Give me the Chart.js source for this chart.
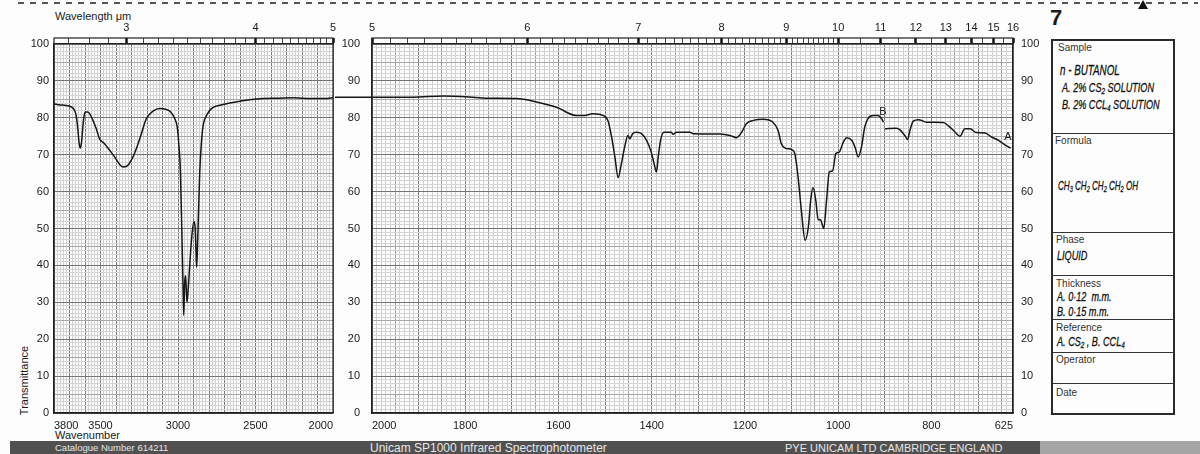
<!DOCTYPE html>
<html>
<head>
<meta charset="utf-8">
<title>n-Butanol IR spectrum</title>
<script src="https://cdn.jsdelivr.net/npm/chart.js@4.4.1/dist/chart.umd.min.js"></script>
<style>
  html, body { margin: 0; padding: 0; }
  body {
    width: 1200px; height: 454px; position: relative; overflow: hidden;
    background: #fdfdfd; color: #1a1a1a;
    font-family: 'Liberation Sans', Arial, sans-serif;
  }
  canvas { position: absolute; top: 0; }
  #left { left: 0; }
  #right { left: 335px; }
  .abs { position: absolute; white-space: nowrap; line-height: 1; }
  .hd { font-size: 10px; color: #333; }
  .hw { font-style: italic; font-size: 13px; color: #111; transform: scaleX(0.7); transform-origin: left center; -webkit-text-stroke: 0.3px #111; }
  .hw sub { font-size: 9px; vertical-align: -2px; }
  .rule { position: absolute; left: 1051px; width: 124px; height: 0; border-top: 1px solid #333; }
  #info { position: absolute; left: 1051px; top: 39px; width: 124px; height: 376px; box-sizing: border-box; border: 2px solid #2a2a2a; }
  #dash { position: absolute; left: 18px; top: 2px; width: 1180px; height: 2px;
          background: repeating-linear-gradient(90deg, #555 0 6px, transparent 6px 12px); }
  #band { position: absolute; left: 10px; top: 441px; width: 1030px; height: 13px; background: #505050; }
  #band2 { position: absolute; left: 1040px; top: 441px; width: 160px; height: 13px; background: #a5a5a5; }
  .bt { position: absolute; top: 442px; color: #e6e6e6; white-space: nowrap; line-height: 12px; }
</style>
</head>
<body>
<div id="dash"></div>
<div class="abs" style="left:1138px;top:0;width:0;height:0;border-left:5px solid transparent;border-right:5px solid transparent;border-bottom:9px solid #111;"></div>
<div class="abs" style="left:1050px;top:7px;font-size:22px;font-weight:bold;">7</div>

<div class="abs" style="left:55px;top:11px;font-size:11px;">Wavelength μm</div>
<div class="abs" style="left:55px;top:430px;font-size:11px;">Wavenumber</div>
<div class="abs" style="left:-10px;top:375px;font-size:11px;transform:rotate(-90deg);">Transmittance</div>

<canvas id="left" width="345" height="454"></canvas>
<canvas id="right" width="710" height="454"></canvas>

<div id="info"></div>
<div class="rule" style="top:133px"></div>
<div class="rule" style="top:232px"></div>
<div class="rule" style="top:275px"></div>
<div class="rule" style="top:319px"></div>
<div class="rule" style="top:352px"></div>
<div class="rule" style="top:383px"></div>

<div class="abs hd" style="left:1058px;top:43px">Sample</div>
<div class="abs hw" style="left:1060px;top:63px;font-size:14px"><i>n</i> - BUTANOL</div>
<div class="abs hw" style="left:1062px;top:81px">A. 2% CS<sub>2</sub> SOLUTION</div>
<div class="abs hw" style="left:1062px;top:98px">B. 2% CCL<sub>4</sub> SOLUTION</div>
<div class="abs hd" style="left:1055px;top:136px">Formula</div>
<div class="abs hw" style="left:1058px;top:179px;transform:scaleX(0.62)">CH<sub>3</sub> CH<sub>2</sub> CH<sub>2</sub> CH<sub>2</sub> OH</div>
<div class="abs hd" style="left:1056px;top:235px">Phase</div>
<div class="abs hw" style="left:1057px;top:249px">LIQUID</div>
<div class="abs hd" style="left:1056px;top:279px">Thickness</div>
<div class="abs hw" style="left:1057px;top:290px">A. 0·12 &nbsp;m.m.</div>
<div class="abs hw" style="left:1057px;top:305px">B. 0·15 m.m.</div>
<div class="abs hd" style="left:1056px;top:323px">Reference</div>
<div class="abs hw" style="left:1057px;top:335px">A. CS<sub>2</sub> , B. CCL<sub>4</sub></div>
<div class="abs hd" style="left:1056px;top:355px">Operator</div>
<div class="abs hd" style="left:1056px;top:388px">Date</div>

<div id="band"></div>
<div id="band2"></div>
<div class="bt" style="left:55px;font-size:9.5px;">Catalogue Number 614211</div>
<div class="bt" style="left:370px;font-size:12px;">Unicam SP1000 Infrared Spectrophotometer</div>
<div class="bt" style="left:785px;font-size:11px;">PYE UNICAM LTD CAMBRIDGE ENGLAND</div>

<script>
/* ── Trace: wavenumber (cm-1) and % transmittance ── */
const WN_LEFT = [3800, 3760, 3732, 3690, 3670, 3657, 3645, 3640, 3631, 3622, 3614, 3607, 3598, 3585,
  3571, 3549, 3527, 3506, 3474, 3441, 3409, 3377, 3355, 3333, 3301, 3269, 3236, 3204, 3161, 3118,
  3080, 3050, 3021, 3005, 2996, 2984, 2974, 2967, 2963, 2957, 2951, 2946, 2942, 2935, 2929, 2913,
  2898, 2890, 2884, 2880, 2875, 2871, 2860, 2842, 2816, 2784, 2730, 2666, 2600, 2537, 2450, 2350,
  2250, 2150, 2050, 2000];
const T_LEFT = [83.8, 83.5, 83.4, 83.0, 82.2, 80.6, 76.5, 73.9, 71.8, 73.5, 77.5, 80.2, 81.6, 81.6,
  81.2, 79.3, 77.0, 74.3, 73.0, 71.2, 69.4, 67.4, 66.7, 66.8, 68.5, 71.6, 75.7, 79.8, 81.8, 82.5,
  82.3, 81.7, 79.8, 77.5, 73.5, 64.9, 46.8, 33.3, 26.5, 35.2, 37.2, 33.0, 30.0, 33.0, 36.9, 46.8,
  51.8, 50.5, 44.0, 39.5, 44.0, 49.5, 64.9, 76.6, 80.6, 82.5, 83.4, 84.0, 84.5, 84.9, 85.2, 85.3,
  85.4, 85.2, 85.2, 85.5];

/* first point is where the pen crosses the gap between the two panels */
const WN_RIGHT = [2083, 2000, 1912, 1848, 1784, 1748, 1690, 1647, 1619, 1597, 1583, 1562, 1547, 1526,
  1504, 1494, 1486, 1479, 1472, 1465, 1458, 1451, 1447, 1441, 1433, 1422, 1411, 1401, 1394, 1390,
  1386, 1381, 1374, 1358, 1354, 1347, 1318, 1311, 1254, 1232, 1218, 1207, 1197, 1182, 1161, 1140,
  1129, 1122, 1114, 1100, 1093, 1086, 1079, 1071, 1064, 1059, 1054, 1048, 1043, 1038, 1031, 1025,
  1019, 1012, 1005, 998, 989, 982, 971, 964, 957, 950, 943, 936, 925, 914, 907, 903,
  901, 900, 875, 868, 857, 851, 846, 839, 828, 810, 775, 764, 749, 739, 728, 717, 704, 685, 671,
  656, 638, 630];
const T_RIGHT = [85.6, 85.6, 85.6, 85.9, 85.6, 85.3, 85.2, 84.3, 83.4, 82.5, 81.5, 80.6, 80.6, 81.1,
  80.6, 79.3, 74.8, 69.4, 63.8, 67.6, 72.1, 75.2, 74.3, 75.7, 76.1, 75.7, 73.9, 70.7, 67.1, 65.3,
  69.4, 73.9, 76.1, 76.1, 75.5, 76.1, 76.1, 75.7, 75.6, 75.2, 74.6, 76.1, 78.4, 79.3, 79.6, 78.8,
  76.6, 73.0, 71.8, 71.4, 70.3, 63.9, 54.9, 46.8, 50.4, 57.6, 61.1, 57.6, 52.4, 52.4, 50.0, 57.6,
  65.3, 65.6, 70.3, 70.7, 73.4, 74.6, 73.9, 72.1, 69.4, 72.1, 77.5, 79.8, 80.6, 80.6, 79.8, 78.8,
  null, 77.0, 77.2, 76.8, 75.2, 74.1, 76.6, 79.1, 79.5, 78.8, 78.7, 77.9, 76.1, 75.0, 77.0, 77.0,
  76.0, 75.9, 74.8, 73.9, 72.3, 71.8];

/* Tick labels */
const X_LABELS_LEFT = [3800, 3500, 3000, 2500, 2000];
const X_LABELS_RIGHT = [2000, 1800, 1600, 1400, 1200, 1000, 800, 625];
const Y_LABELS = [0, 10, 20, 30, 40, 50, 60, 70, 80, 90, 100];
const UM_LABELS_LEFT = [3, 4, 5];
const UM_LABELS_RIGHT = [5, 6, 7, 8, 9, 10, 11, 12, 13, 14, 15, 16];

/* Trace tags (A = CS2 run, B = CCl4 run) */
const TAGS = ['A', 'B'];
const TAG_WN = [636, 904];
const TAG_T = [74.8, 81.6];

/* Wavelength ruler marks along the top edge */
function umSteps(from, to, step) {
  const out = [];
  for (let u = from; u <= to + 1e-9; u += step) out.push(+u.toFixed(2));
  return out;
}
const UM_MARKS_LEFT = umSteps(2.7, 5, 0.1);
const UM_MARKS_RIGHT = umSteps(5, 10, 0.1).concat(umSteps(10.5, 16, 0.5));

const INK = '#1a1a1a';
const FONT = { family: "'Liberation Sans', Arial, sans-serif", size: 11 };

/* Graph paper: darker every 100 / 50 cm-1 and every 10 / 5 % */
function xGridColor(ctx) {
  const v = ctx.tick.value;
  if (v % 100 === 0) return '#7c7c7c';
  if (v % 50 === 0) return '#a2a2a2';
  return '#d0d0d0';
}
function yGridColor(ctx) {
  const v = ctx.tick.value;
  if (v % 10 === 0) return '#747474';
  if (v % 5 === 0) return '#a8a8a8';
  return '#d4d4d4';
}
function isWholeUm(v) {
  const u = 10000 / v;
  return Math.abs(u - Math.round(u)) < 1e-6;
}

const framePlugin = {
  id: 'frame',
  afterDraw(chart) {
    const { ctx, chartArea: a } = chart;
    ctx.save();
    ctx.strokeStyle = '#222';
    ctx.lineWidth = 1.2;
    ctx.strokeRect(a.left, a.top - 6, a.right - a.left, a.bottom - a.top + 6);
    ctx.restore();
  }
};

const tagPlugin = {
  id: 'tags',
  afterDatasetsDraw(chart, args, opts) {
    if (!opts.labels) return;
    const { ctx, scales: { x, y } } = chart;
    ctx.save();
    ctx.font = "11px 'Liberation Sans', Arial, sans-serif";
    ctx.fillStyle = INK;
    ctx.textAlign = 'center';
    ctx.textBaseline = 'middle';
    opts.labels.forEach((t, i) => {
      ctx.fillText(t, x.getPixelForValue(opts.wn[i]), y.getPixelForValue(opts.t[i]));
    });
    ctx.restore();
  }
};

function makeChart(id, o) {
  const points = o.wn.map((w, i) => ({ x: w, y: o.t[i] }));
  const scales = {
    x: {
      type: 'linear', position: 'bottom', reverse: true, min: o.min, max: o.max,
      // reversed axis flips the tick list; flip it back so 'inner' keeps end labels inside
      afterBuildTicks: s => { s.ticks.reverse(); },
      afterFit: s => { s.height = 41; },
      ticks: {
        stepSize: o.step, autoSkip: false, maxRotation: 0, align: 'inner', padding: 6,
        font: FONT, color: INK,
        callback: v => o.labels.includes(v) ? String(v) : '',
      },
      grid: { color: xGridColor, lineWidth: 1, drawTicks: false },
      border: { color: '#222', width: 1.2 },
    },
    top: {
      type: 'linear', position: 'top', reverse: true, min: o.min, max: o.max,
      afterBuildTicks: s => { s.ticks = o.umMarks.map(u => ({ value: 10000 / u })); },
      afterFit: s => { s.height = 44; },
      ticks: {
        autoSkip: false, maxRotation: 0, padding: 3, font: FONT, color: INK,
        callback: v => {
          const r = Math.round(10000 / v);
          return isWholeUm(v) && o.umLabels.includes(r) ? String(r) : '';
        },
      },
      grid: {
        drawOnChartArea: false, drawTicks: true, tickLength: 6,
        tickColor: ctx => isWholeUm(ctx.tick.value) ? '#111' : '#444',
        tickWidth: ctx => isWholeUm(ctx.tick.value) ? 2.5 : 1,
      },
      border: { color: '#222', width: 1.2 },
    },
    y: {
      min: 0, max: 100, position: 'left',
      afterFit: s => { s.width = o.yWidth; },
      ticks: {
        stepSize: 1, autoSkip: false, padding: o.yPad, font: FONT, color: INK,
        callback: v => Y_LABELS.includes(v) ? String(v) : '',
      },
      grid: { color: yGridColor, lineWidth: 1, drawTicks: false },
      border: { color: '#222', width: 1.2 },
    },
  };
  if (o.rightAxis) {
    scales.y2 = {
      min: 0, max: 100, position: 'right',
      afterFit: s => { s.width = 32; },
      ticks: { stepSize: 10, padding: 8, font: FONT, color: INK },
      grid: { drawOnChartArea: false, drawTicks: false },
      border: { color: '#222', width: 1.2 },
    };
  }

  return new Chart(document.getElementById(id), {
    type: 'line',
    data: {
      datasets: [{
        data: points,
        borderColor: '#161616',
        borderWidth: 1.5,
        pointRadius: 0,
        cubicInterpolationMode: 'monotone',
        spanGaps: false,
        clip: false,
        yAxisID: 'y',
      }],
    },
    options: {
      responsive: false,
      animation: false,
      events: [],
      layout: { padding: { right: o.padRight, top: 0, bottom: 0, left: 0 } },
      scales,
      plugins: {
        legend: { display: false },
        tooltip: { enabled: false },
        tags: o.tags || {},
      },
    },
    plugins: [framePlugin, tagPlugin],
  });
}

makeChart('left', {
  wn: WN_LEFT, t: T_LEFT, min: 2000, max: 3800, step: 20,
  labels: X_LABELS_LEFT, umMarks: UM_MARKS_LEFT, umLabels: UM_LABELS_LEFT,
  yWidth: 54, yPad: 5, padRight: 12, rightAxis: false,
});

makeChart('right', {
  wn: WN_RIGHT, t: T_RIGHT, min: 625, max: 2000, step: 10,
  labels: X_LABELS_RIGHT, umMarks: UM_MARKS_RIGHT, umLabels: UM_LABELS_RIGHT,
  yWidth: 37, yPad: 12, padRight: 0, rightAxis: true,
  tags: { labels: TAGS, wn: TAG_WN, t: TAG_T },
});
</script>
</body>
</html>
